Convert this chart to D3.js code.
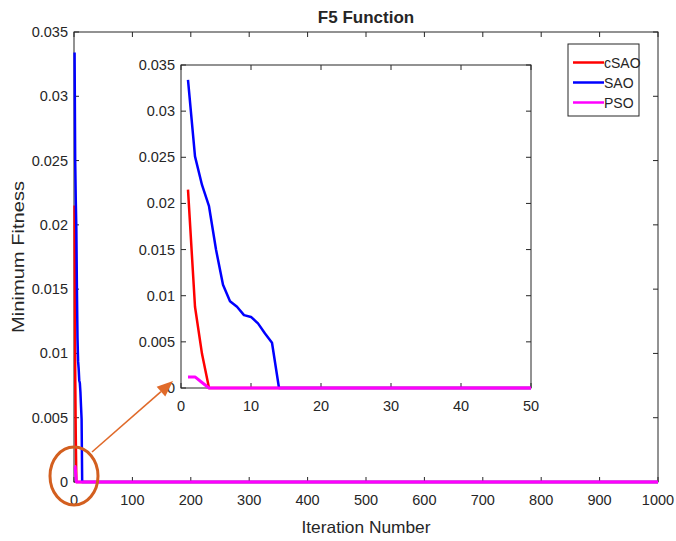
<!DOCTYPE html>
<html>
<head>
<meta charset="utf-8">
<script src="https://cdnjs.cloudflare.com/ajax/libs/d3/7.8.5/d3.min.js"></script>
<style>
  body { margin: 0; background: #fff; }
  svg text { font-family: "Liberation Sans", Arial, sans-serif; fill: #262626; }
</style>
</head>
<body>
<div id="chart"></div>
<script>
// values (iteration -> minimum fitness)
const csaoIter = [1, 2, 3, 4, 1000];
const csaoVal = [0.0215, 0.0088, 0.0037, 0, 0];
const saoIter = [1, 2, 3, 4, 5, 6, 7, 8, 9, 10, 11, 12, 13, 14, 1000];
const saoVal = [0.0334, 0.0251, 0.0220, 0.0197, 0.0150, 0.0112, 0.0094, 0.0088, 0.0079, 0.0077, 0.0070, 0.0059, 0.0049, 0, 0];
const psoIter = [1, 2, 3, 4, 1000];
const psoVal = [0.0012, 0.0012, 0.0006, 0, 0];

const seriesNames = ["cSAO", "SAO", "PSO"];
const seriesColors = ["#ff0000", "#0000ff", "#ff00ff"];

const mainXTicks = [0, 100, 200, 300, 400, 500, 600, 700, 800, 900, 1000];
const insetXTicks = [0, 10, 20, 30, 40, 50];
const yTicks = [0, 0.005, 0.01, 0.015, 0.02, 0.025, 0.03, 0.035];

const series = [
  csaoIter.map((d, i) => ({x: d, y: csaoVal[i]})),
  saoIter.map((d, i) => ({x: d, y: saoVal[i]})),
  psoIter.map((d, i) => ({x: d, y: psoVal[i]}))
];

const W = 676, H = 541;
const svg = d3.select("#chart").append("svg").attr("width", W).attr("height", H);
const fmt = d => d === 0 ? "0" : String(+d.toFixed(3));
const axisColor = "#262626";
const tickFont = 14.5;

// draw a MATLAB-like boxed axes with inward ticks
function drawBox(g, x, y, xt, yt) {
  const [x0, x1] = x.range();
  const [y0, y1] = y.range();
  g.append("rect").attr("x", x0).attr("y", y1).attr("width", x1 - x0).attr("height", y0 - y1)
    .attr("fill", "#fff").attr("stroke", "none");
  const ticks = g.append("g").attr("stroke", axisColor).attr("stroke-width", 1);
  xt.forEach(t => {
    ticks.append("line").attr("x1", x(t)).attr("x2", x(t)).attr("y1", y0).attr("y2", y0 - 5);
    ticks.append("line").attr("x1", x(t)).attr("x2", x(t)).attr("y1", y1).attr("y2", y1 + 5);
  });
  yt.forEach(t => {
    ticks.append("line").attr("y1", y(t)).attr("y2", y(t)).attr("x1", x0).attr("x2", x0 + 5);
    ticks.append("line").attr("y1", y(t)).attr("y2", y(t)).attr("x1", x1).attr("x2", x1 - 5);
  });
  g.append("rect").attr("x", x0).attr("y", y1).attr("width", x1 - x0).attr("height", y0 - y1)
    .attr("fill", "none").attr("stroke", axisColor).attr("stroke-width", 1);
  g.selectAll(".xl").data(xt).join("text")
    .attr("x", d => x(d)).attr("y", y0 + 23).attr("text-anchor", "middle")
    .attr("font-size", tickFont).text(d => d);
  g.selectAll(".yl").data(yt).join("text")
    .attr("x", x0 - 6).attr("y", d => y(d) + 5).attr("text-anchor", "end")
    .attr("font-size", tickFont).text(fmt);
}

function drawLines(g, x, y, clipId) {
  const line = d3.line().x(d => x(d.x)).y(d => y(d.y));
  const lg = g.append("g");
  if (clipId) lg.attr("clip-path", `url(#${clipId})`);
  series.forEach((s, i) => {
    lg.append("path").datum(s).attr("d", line)
      .attr("fill", "none").attr("stroke", seriesColors[i])
      .attr("stroke-width", i === 2 ? 3 : 2.5).attr("stroke-linejoin", "round");
  });
}

// main axes
const x = d3.scaleLinear().domain([0, 1000]).range([74, 658]);
const y = d3.scaleLinear().domain([0, 0.035]).range([482, 32]);
const main = svg.append("g");
drawBox(main, x, y, mainXTicks, yTicks);
drawLines(main, x, y, null);

main.append("text").attr("x", 366).attr("y", 23).attr("text-anchor", "middle")
  .attr("font-size", 17).attr("font-weight", "bold").attr("fill", "#000").text("F5 Function");
main.append("text").attr("x", 366).attr("y", 533).attr("text-anchor", "middle")
  .attr("font-size", 16.5).attr("textLength", 129).attr("lengthAdjust", "spacingAndGlyphs")
  .text("Iteration Number");
main.append("text").attr("transform", "translate(24,257) rotate(-90)").attr("text-anchor", "middle")
  .attr("font-size", 16.5).attr("textLength", 152).attr("lengthAdjust", "spacingAndGlyphs")
  .text("Minimum Fitness");

// inset axes (zoom of first 50 iterations)
const xi = d3.scaleLinear().domain([0, 50]).range([181, 531]);
const yi = d3.scaleLinear().domain([0, 0.035]).range([388, 65]);
svg.append("defs").append("clipPath").attr("id", "insetClip")
  .append("rect").attr("x", 181).attr("y", 60).attr("width", 350).attr("height", 332);
const inset = svg.append("g");
drawBox(inset, xi, yi, insetXTicks, yTicks);
drawLines(inset, xi, yi, "insetClip");

// legend
const leg = svg.append("g");
leg.append("rect").attr("x", 568).attr("y", 44).attr("width", 71).attr("height", 72)
  .attr("fill", "#fff").attr("stroke", axisColor).attr("stroke-width", 1);
seriesNames.forEach((n, i) => {
  const yy = 62.5 + i * 20;
  leg.append("line").attr("x1", 573).attr("x2", 604).attr("y1", yy).attr("y2", yy)
    .attr("stroke", seriesColors[i]).attr("stroke-width", 2.5);
  leg.append("text").attr("x", 604).attr("y", yy + 5).attr("font-size", 14)
    .attr("fill", "#000").text(n);
});

// zoom annotation: circle round the origin and arrow to the inset
const orange = "#d35f1f";
svg.append("ellipse").attr("cx", x(0)).attr("cy", y(0) - 6).attr("rx", 24).attr("ry", 29)
  .attr("fill", "none").attr("stroke", orange).attr("stroke-width", 3);
const a0 = [92, 452], a1 = [173, 381];
const ang = Math.atan2(a1[1] - a0[1], a1[0] - a0[0]);
const hl = 16, hw = 6.5;
const bx = a1[0] - hl * Math.cos(ang), by = a1[1] - hl * Math.sin(ang);
svg.append("line").attr("x1", a0[0]).attr("y1", a0[1]).attr("x2", bx).attr("y2", by)
  .attr("stroke", "#e06a2a").attr("stroke-width", 1.6);
svg.append("polygon").attr("fill", "#e06a2a").attr("points", [
  a1,
  [bx + hw * Math.sin(ang), by - hw * Math.cos(ang)],
  [bx - hw * Math.sin(ang), by + hw * Math.cos(ang)]
].map(p => p.join(",")).join(" "));
</script>
</body>
</html>
